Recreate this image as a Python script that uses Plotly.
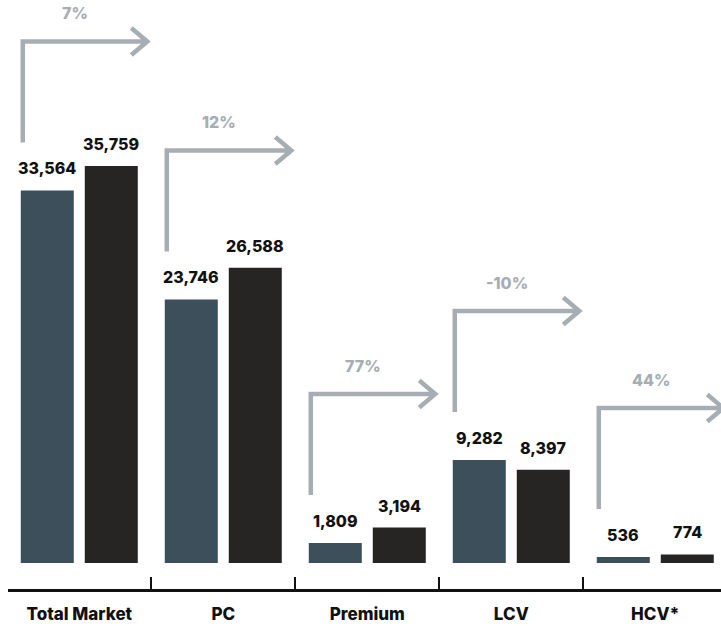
import plotly.graph_objects as go

# Vehicle market volumes, previous period vs current period
categories = ["Total Market", "PC", "Premium", "LCV", "HCV*"]
prev_values = [33564, 23746, 1809, 9282, 536]
curr_values = [35759, 26588, 3194, 8397, 774]
growth_labels = ["7%", "12%", "77%", "-10%", "44%"]

BLUE = "#3e4f5c"
DARK = "#262523"
GREY = "#a6aeb3"
INK = "#111111"
FONT = "Inter"

W, H = 721, 626
M_L, M_R, M_T, M_B = 8, 0, 0, 37
CAT_PX = 144.0                    # pixel width of one category slot
BAR_W = 53 / CAT_PX               # bar width in category units
OFF_PREV = -58.5 / CAT_PX         # left edge of first bar from slot centre
OFF_CURR = 5.5 / CAT_PX           # left edge of second bar from slot centre

plot_w = W - M_L - M_R
plot_h = H - M_T - M_B
x0 = -0.495
x1 = x0 + plot_w / CAT_PX

px_per_unit = 0.0111
y0 = -26 / px_per_unit
y1 = y0 + plot_h / px_per_unit

fig = go.Figure()
fig.add_trace(go.Bar(x=categories, y=prev_values, width=BAR_W, offset=OFF_PREV,
                     marker=dict(color=BLUE, line=dict(width=0)), hoverinfo="skip"))
fig.add_trace(go.Bar(x=categories, y=curr_values, width=BAR_W, offset=OFF_CURR,
                     marker=dict(color=DARK, line=dict(width=0)), hoverinfo="skip"))

annotations = []
shapes = []
for cat, pv, cv, g in zip(categories, prev_values, curr_values, growth_labels):
    for val, off in ((pv, OFF_PREV), (cv, OFF_CURR)):
        annotations.append(dict(
            x=cat, y=val, xref="x", yref="y", text=f"{val:,}", showarrow=False,
            xshift=(off + BAR_W / 2) * CAT_PX, yanchor="bottom", yshift=10,
            font=dict(family=FONT, size=16, color=INK, weight=800)))
    # bent growth arrow rising from above the first bar
    shapes.append(dict(
        type="path", xref="x", yref="y", xsizemode="pixel", ysizemode="pixel",
        xanchor=cat, yanchor=pv,
        path="M -56.5 48 L -56.5 149 L 68 149 M 52 162.5 L 68 149 L 52 135.5",
        line=dict(color=GREY, width=4.5)))
    annotations.append(dict(
        x=cat, y=pv, xref="x", yref="y", text=g, showarrow=False,
        xshift=-4, yanchor="middle", yshift=177,
        font=dict(family=FONT, size=16, color=GREY, weight=800)))

fig.update_layout(
    width=W, height=H,
    margin=dict(l=M_L, r=M_R, t=M_T, b=M_B),
    paper_bgcolor="white", plot_bgcolor="white",
    barmode="overlay", showlegend=False,
    annotations=annotations, shapes=shapes,
    xaxis=dict(type="category", range=[x0, x1], showgrid=False,
               showline=True, linecolor=INK, linewidth=2.5,
               ticks="inside", tickson="boundaries", ticklen=12, tickwidth=1.5,
               tickcolor=INK, ticklabelstandoff=8,
               tickfont=dict(family=FONT, size=17, color=INK, weight=800)),
    yaxis=dict(range=[y0, y1], visible=False, showgrid=False, zeroline=False),
)

fig.write_html("out.html")
